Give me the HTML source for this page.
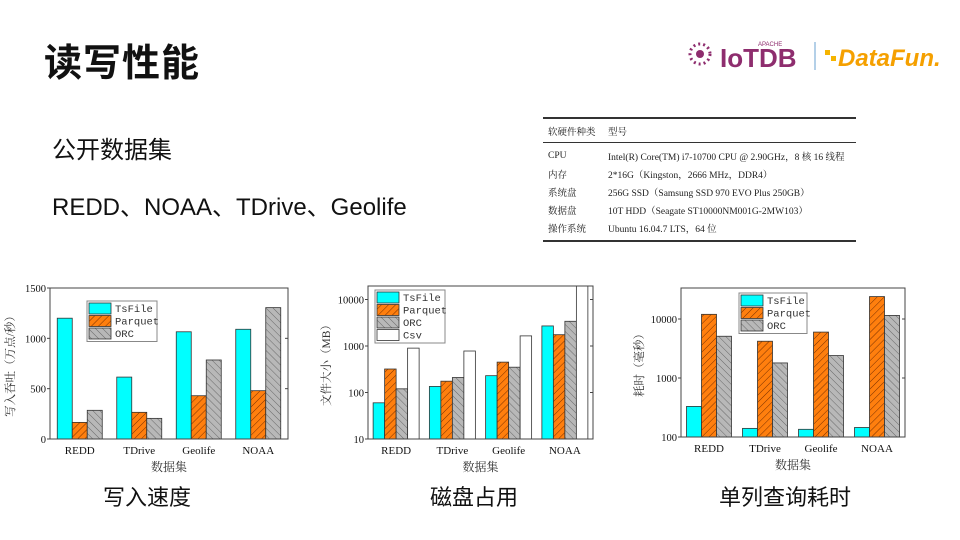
<!DOCTYPE html>
<html><head><meta charset="utf-8">
<style>
body{margin:0;width:960px;height:540px;background:#fff;overflow:hidden;font-family:"Liberation Sans","Noto Sans CJK SC",sans-serif;position:relative}
.t{position:absolute;white-space:nowrap;color:#111}
table{position:absolute;left:543px;top:117px;width:313px;border-collapse:collapse;font-family:"Liberation Serif","Noto Serif CJK SC",serif;font-size:9.5px;color:#222}
td{padding:0 0 0 5px;height:18px}
</style></head><body>
<div class="t" style="left:44px;top:32px;font-size:38px;font-weight:bold;letter-spacing:1px">读写性能</div>
<div class="t" style="left:52px;top:130px;font-size:24px">公开数据集</div>
<div class="t" style="left:52px;top:187px;font-size:24px">REDD、NOAA、TDrive、Geolife</div>
<svg style="position:absolute;left:680px;top:36px" width="260" height="40">
<g fill="#8e2d6e"><circle cx="20" cy="18" r="10" fill="none" stroke="#8e2d6e" stroke-width="3" stroke-dasharray="2 3"/><circle cx="20" cy="18" r="4"/></g>
<text x="40" y="31" font-family="Liberation Sans" font-size="26" font-weight="bold" fill="#8e2d6e">IoTDB</text>
<text x="78" y="10" font-size="6" fill="#8e2d6e" font-family="Liberation Sans">APACHE</text>
<line x1="135" y1="6" x2="135" y2="34" stroke="#6aa0d0"/>
<rect x="145" y="14" width="5" height="5" fill="#f5b400"/><rect x="151" y="20" width="5" height="5" fill="#f5b400"/>
<text x="158" y="30" font-family="Liberation Sans" font-size="24" font-weight="bold" font-style="italic" fill="#f5a000">DataFun.</text>
</svg>
<table>
<tr style="border-top:2px solid #333;border-bottom:1.5px solid #333"><td style="height:23px;width:55px">软硬件种类</td><td>型号</td></tr>
<tr><td style="padding-top:4px">CPU</td><td style="padding-top:4px">Intel(R) Core(TM) i7-10700 CPU @ 2.90GHz，8 核 16 线程</td></tr>
<tr><td>内存</td><td>2*16G（Kingston，2666 MHz，DDR4）</td></tr>
<tr><td>系统盘</td><td>256G SSD（Samsung SSD 970 EVO Plus 250GB）</td></tr>
<tr><td>数据盘</td><td>10T HDD（Seagate ST10000NM001G-2MW103）</td></tr>
<tr style="border-bottom:2px solid #333"><td style="padding-bottom:3px">操作系统</td><td style="padding-bottom:3px">Ubuntu 16.04.7 LTS，64 位</td></tr>
</table>
<div class="t" style="left:103px;top:480px;font-size:22px">写入速度</div>
<div class="t" style="left:430px;top:480px;font-size:22px">磁盘占用</div>
<div class="t" style="left:719px;top:480px;font-size:22px">单列查询耗时</div>
<svg id="ch" width="960" height="540" style="position:absolute;left:0;top:0" font-family="Liberation Serif, Noto Serif CJK SC, serif">
<defs>
<pattern id="pq" width="5" height="5" patternUnits="userSpaceOnUse" patternTransform="rotate(45)"><rect width="5" height="5" fill="#ff7f0e"/><line x1="0" y1="0" x2="0" y2="5" stroke="#7a3000" stroke-width="1"/></pattern>
<pattern id="orc" width="5" height="5" patternUnits="userSpaceOnUse" patternTransform="rotate(-45)"><rect width="5" height="5" fill="#b8b8b8"/><line x1="0" y1="0" x2="0" y2="5" stroke="#555" stroke-width="0.8"/></pattern>
</defs>
</svg>
<script>
const categories=["REDD","TDrive","Geolife","NOAA"];
const seriesNames=["TsFile","Parquet","ORC","Csv"];
const writeTsFile=[1200,615,1065,1090];
const writeParquet=[165,265,430,480];
const writeORC=[285,205,785,1305];
const diskTsFile=[60,135,230,2700];
const diskParquet=[320,175,450,1750];
const diskORC=[120,210,350,3400];
const diskCsv=[900,780,1650,20000];
const queryTsFile=[330,140,135,145];
const queryParquet=[12000,4200,6000,24000];
const queryORC=[5100,1800,2400,11500];
const writeTicks=[0,500,1000,1500];
const diskTicks=[10,100,1000,10000];
const queryTicks=[100,1000,10000];
const fills=["#00ffff","url(#pq)","url(#orc)","#ffffff"];
const svg=document.getElementById('ch');
function el(tag,a,parent){const e=document.createElementNS('http://www.w3.org/2000/svg',tag);for(const k in a)e.setAttribute(k,a[k]);(parent||svg).appendChild(e);return e;}
function chart(o){
  const g=el('g',{});
  
  
  const y=o.log?(v=>o.y0-(Math.log10(v)-Math.log10(o.vmin))*o.dec):(v=>o.y0-(v-o.vmin)/(o.vmax-o.vmin)*(o.y0-o.y1));
  const n=o.series.length,bw=o.bw,step=(o.x1-o.x0)/categories.length;
  categories.forEach((c,i)=>{
    const cx=o.x0+step*(i+0.5);
    o.series.forEach((s,j)=>{
      const bx=cx-n*bw/2+j*bw;
      const top=Math.max(o.y1,y(s[i]));
      const r=el('rect',{x:bx,y:top,width:bw,height:o.y0-top,fill:fills[j],stroke:'#333','stroke-width':0.8},g);
      
      
    });
    const t=el('text',{x:cx,y:o.y0+15,'font-size':11,'text-anchor':'middle',fill:'#111'},g);t.textContent=c;
    
    
  });
  el('rect',{x:o.x0,y:o.y1,width:o.x1-o.x0,height:o.y0-o.y1,fill:'none',stroke:'#444','stroke-width':1},g);
  o.ticks.forEach(v=>{const yy=y(v);
    el('line',{x1:o.x0-3,x2:o.x0,y1:yy,y2:yy,stroke:'#444'},g);
    el('line',{x1:o.x1,x2:o.x1-3,y1:yy,y2:yy,stroke:'#444'},g);
    const t=el('text',{x:o.x0-4,y:yy+4,'font-size':10.5,'text-anchor':'end',fill:'#111'},g);t.textContent=v;
    
    });
  const xt=el('text',{x:(o.x0+o.x1)/2,y:o.y0+32,'font-size':12,'text-anchor':'middle',fill:'#333'},g);xt.textContent='数据集';
  
  
  const yt=el('text',{x:0,y:0,'font-size':11.5,'text-anchor':'middle',fill:'#333',transform:`translate(${o.x0-o.yOff},${(o.y0+o.y1)/2}) rotate(-90)`},g);yt.textContent=o.ytitle;
  
  
  const lg=el('g',{},g);
  
  
  el('rect',{x:o.lx,y:o.ly,width:o.lw,height:n*12.5+3,fill:'#fff',stroke:'#888'},lg);
  o.series.forEach((s,j)=>{
    el('rect',{x:o.lx+2,y:o.ly+2+j*12.5,width:22,height:11,fill:fills[j],stroke:'#333','stroke-width':0.8},lg);
    const t=el('text',{x:o.lx+28,y:o.ly+11+j*12.5,'font-size':10.5,fill:'#333','font-family':'Liberation Mono, monospace'},lg);t.textContent=seriesNames[j];
    
    
  });
}
chart({name:'write-throughput-chart',x0:50,x1:288,y0:439,y1:288,vmin:0,vmax:1500,log:false,bw:15,series:[writeTsFile,writeParquet,writeORC],ticks:writeTicks,ytitle:'写入吞吐（万点/秒）',yOff:36,lx:87,ly:301,lw:70});
chart({name:'disk-usage-chart',x0:368,x1:593,y0:439,y1:286,vmin:10,log:true,dec:46.5,bw:11.5,series:[diskTsFile,diskParquet,diskORC,diskCsv],ticks:diskTicks,ytitle:'文件大小（MB）',yOff:38,lx:375,ly:290,lw:70});
chart({name:'query-latency-chart',x0:681,x1:905,y0:437,y1:288,vmin:100,log:true,dec:59,bw:15,series:[queryTsFile,queryParquet,queryORC],ticks:queryTicks,ytitle:'耗时（毫秒）',yOff:38,lx:739,ly:293,lw:68});
</script>
</body></html>
